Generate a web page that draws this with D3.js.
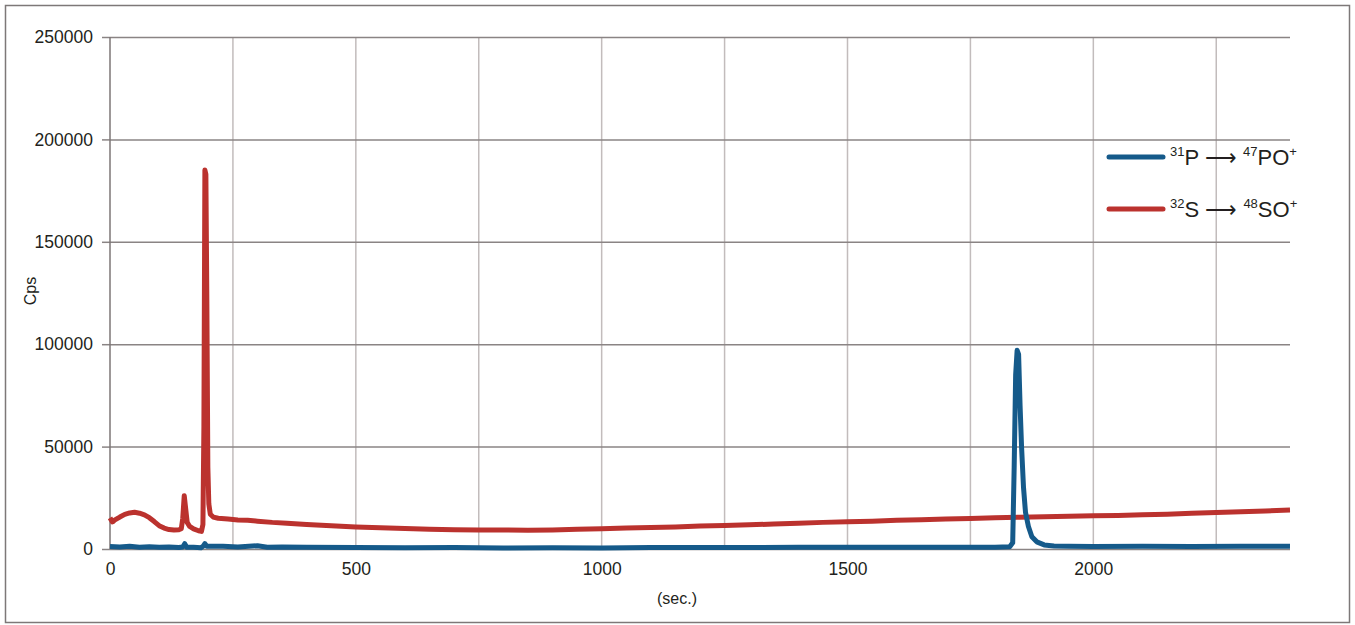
<!DOCTYPE html>
<html>
<head>
<meta charset="utf-8">
<script src="https://cdn.jsdelivr.net/npm/d3@7"></script>
<style>
  body { margin: 0; background: #fff; }
  text { font-family: "Liberation Sans Narrow", "Arial Narrow", "Liberation Sans", sans-serif; fill: #231f20; }
</style>
</head>
<body>
<script>
// red trace: 32S -> 48SO+
var sTime = [0, 5, 10, 20, 30, 40, 50, 60, 70, 80, 90, 100, 110, 120, 130, 140, 145, 148, 151, 154, 157, 162, 170, 180, 186, 189, 191, 193, 195, 197, 199, 201, 204, 210, 220, 240, 260, 280, 300, 330, 360, 400, 450, 500, 550, 600, 650, 700, 750, 800, 850, 900, 950, 1000, 1050, 1100, 1150, 1200, 1250, 1300, 1350, 1400, 1450, 1500, 1550, 1600, 1650, 1700, 1750, 1800, 1850, 1900, 1950, 2000, 2050, 2100, 2150, 2200, 2250, 2300, 2350, 2400];
var sCps = [15200, 13200, 14200, 15600, 16900, 17600, 17900, 17500, 16700, 15300, 13400, 11400, 10200, 9500, 9300, 9400, 9900, 15000, 26000, 19500, 13000, 11000, 9800, 8900, 8600, 12000, 60000, 185000, 183000, 120000, 40000, 22000, 17000, 15600, 15000, 14600, 14200, 14000, 13600, 13000, 12600, 12000, 11300, 10800, 10400, 10000, 9700, 9400, 9300, 9300, 9200, 9300, 9600, 9900, 10200, 10500, 10800, 11200, 11500, 11800, 12200, 12600, 13000, 13300, 13600, 14000, 14300, 14600, 14900, 15200, 15500, 15800, 16000, 16200, 16400, 16700, 17000, 17400, 17800, 18200, 18600, 19000];

// blue trace: 31P -> 47PO+
var pTime = [0, 20, 40, 60, 80, 100, 120, 140, 148, 152, 156, 170, 185, 190, 193, 197, 210, 230, 260, 300, 320, 350, 400, 500, 600, 700, 800, 900, 1000, 1100, 1200, 1300, 1400, 1500, 1600, 1700, 1800, 1830, 1836, 1839, 1842, 1845, 1848, 1851, 1854, 1858, 1862, 1868, 1875, 1885, 1900, 1920, 1950, 2000, 2100, 2200, 2300, 2400];
var pCps = [1200, 1000, 1300, 900, 1100, 800, 1000, 700, 1000, 2600, 900, 800, 600, 1500, 2600, 1300, 1300, 1300, 1000, 1600, 900, 1000, 800, 700, 600, 700, 500, 600, 500, 700, 700, 700, 800, 900, 900, 900, 900, 1100, 3000, 40000, 85000, 97000, 95000, 70000, 50000, 30000, 18000, 11000, 6000, 3500, 2000, 1500, 1300, 1200, 1300, 1200, 1400, 1300];

var yTicks = [0, 50000, 100000, 150000, 200000, 250000];
var xTicks = [0, 500, 1000, 1500, 2000];
var xGrid = [250, 500, 750, 1000, 1250, 1500, 1750, 2000, 2250];

var width = 1355, height = 625;
var plotLeft = 110, plotRight = 1290, plotTop = 37, plotBottom = 549;

var svg = d3.select("body").append("svg").attr("width", width).attr("height", height);

// outer frame
svg.append("rect")
    .attr("x", 5.5).attr("y", 5.5)
    .attr("width", 1344).attr("height", 617)
    .attr("fill", "none").attr("stroke", "#7d7878").attr("stroke-width", 1.5);

var x = d3.scaleLinear().domain([0, 2400]).range([plotLeft, plotRight]);
var y = d3.scaleLinear().domain([0, 250000]).range([plotBottom, plotTop]);

// vertical grid
svg.append("g")
    .selectAll("line")
    .data(xGrid)
    .enter()
    .append("line")
    .attr("x1", function(d) { return x(d); })
    .attr("x2", function(d) { return x(d); })
    .attr("y1", plotTop).attr("y2", plotBottom)
    .attr("stroke", "#c2bcbc").attr("stroke-width", 1.5);

// horizontal grid + y axis
var yAxis = svg.append("g")
    .attr("transform", "translate(" + plotLeft + ",0)")
    .call(d3.axisLeft(y).tickValues(yTicks).tickSize(8).tickPadding(9).tickFormat(d3.format("d")));
yAxis.select(".domain").remove();
yAxis.selectAll(".tick line").attr("stroke", "#8a8484").attr("stroke-width", 1.5);
yAxis.selectAll(".tick").append("line")
    .attr("x1", 0).attr("x2", plotRight - plotLeft)
    .attr("stroke", "#8a8484").attr("stroke-width", 1.5);
yAxis.selectAll("text").style("font-size", "17.5px").attr("fill", "#231f20");

// y axis line
svg.append("line")
    .attr("x1", plotLeft).attr("x2", plotLeft)
    .attr("y1", plotTop).attr("y2", plotBottom)
    .attr("stroke", "#7d7676").attr("stroke-width", 1.5);

// x axis labels
var xAxis = svg.append("g")
    .attr("transform", "translate(0," + plotBottom + ")")
    .call(d3.axisBottom(x).tickValues(xTicks).tickSize(0).tickPadding(14).tickFormat(d3.format("d")));
xAxis.select(".domain").remove();
xAxis.selectAll("text").style("font-size", "17.5px").attr("fill", "#231f20");

svg.append("text")
    .attr("x", 677).attr("y", 604)
    .attr("text-anchor", "middle")
    .style("font-size", "16px")
    .text("(sec.)");

svg.append("text")
    .attr("transform", "translate(36,291) rotate(-90)")
    .attr("text-anchor", "middle")
    .style("font-size", "16px")
    .text("Cps");

var line = d3.line()
    .x(function(d) { return x(d[0]); })
    .y(function(d) { return y(d[1]); });

var sData = sTime.map(function(t, i) { return [t, sCps[i]]; });
var pData = pTime.map(function(t, i) { return [t, pCps[i]]; });

svg.append("path")
    .datum(sData)
    .attr("d", line)
    .attr("fill", "none")
    .attr("stroke", "#bb322e")
    .attr("stroke-width", 5)
    .attr("stroke-linejoin", "round");

svg.append("path")
    .datum(pData)
    .attr("d", line)
    .attr("fill", "none")
    .attr("stroke", "#155a8a")
    .attr("stroke-width", 5)
    .attr("stroke-linejoin", "round");

// legend
var legend = [
    { color: "#155a8a", parts: [["31", true], ["P ⟶ ", false], ["47", true], ["PO", false], ["+", true]] },
    { color: "#bb322e", parts: [["32", true], ["S ⟶ ", false], ["48", true], ["SO", false], ["+", true]] }
];

var lg = svg.append("g")
    .selectAll("g")
    .data(legend)
    .enter()
    .append("g")
    .attr("transform", function(d, i) { return "translate(0," + (157 + i * 52) + ")"; });

lg.append("line")
    .attr("x1", 1109).attr("x2", 1163)
    .attr("stroke", function(d) { return d.color; })
    .attr("stroke-width", 5)
    .attr("stroke-linecap", "round");

var lt = lg.append("text")
    .attr("x", 1170)
    .attr("y", 8)
    .style("font-size", "22px");

lt.selectAll("tspan")
    .data(function(d) { return d.parts; })
    .enter()
    .append("tspan")
    .attr("dy", function(d, i) { return d[1] ? -9 : 9; })
    .style("font-size", function(d) { return d[1] ? "13px" : "22px"; })
    .text(function(d) { return d[0]; });
</script>
</body>
</html>
